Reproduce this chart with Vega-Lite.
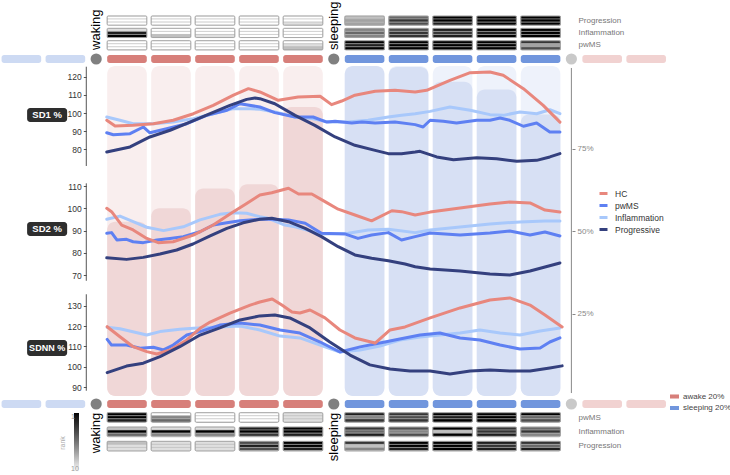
{
  "$schema": "https://vega.github.io/schema/vega-lite/v6.json",
  "padding": 0,
  "spacing": 0,
  "bounds": "flush",
  "config": {
    "view": {"stroke": null},
    "font": "Liberation Sans",
    "axis": {"grid": false, "title": null},
    "legend": {"padding": 0}
  },
  "datasets": {
    "slots": [
      {"start": -2.4, "end": -1.4, "state": "sleeping 20%", "context": "adjacent"},
      {"start": -1.4, "end": -0.4, "state": "sleeping 20%", "context": "adjacent"},
      {"start": 0, "end": 1, "state": "awake 20%", "context": "main"},
      {"start": 1, "end": 2, "state": "awake 20%", "context": "main"},
      {"start": 2, "end": 3, "state": "awake 20%", "context": "main"},
      {"start": 3, "end": 4, "state": "awake 20%", "context": "main"},
      {"start": 4, "end": 5, "state": "awake 20%", "context": "main"},
      {"start": 5.4, "end": 6.4, "state": "sleeping 20%", "context": "main"},
      {"start": 6.4, "end": 7.4, "state": "sleeping 20%", "context": "main"},
      {"start": 7.4, "end": 8.4, "state": "sleeping 20%", "context": "main"},
      {"start": 8.4, "end": 9.4, "state": "sleeping 20%", "context": "main"},
      {"start": 9.4, "end": 10.4, "state": "sleeping 20%", "context": "main"},
      {"start": 10.8, "end": 11.8, "state": "awake 20%", "context": "adjacent"},
      {"start": 11.8, "end": 12.8, "state": "awake 20%", "context": "adjacent"}
    ],
    "markers": [
      {"pos": -0.2, "kind": "waking"},
      {"pos": 5.2, "kind": "sleeping"},
      {"pos": 10.6, "kind": "end"}
    ],
    "columns": [
      {"start": 0, "end": 1, "state": "waking", "share": 52.8},
      {"start": 1, "end": 2, "state": "waking", "share": 56.9},
      {"start": 2, "end": 3, "state": "waking", "share": 62.9},
      {"start": 3, "end": 4, "state": "waking", "share": 64.2},
      {"start": 4, "end": 5, "state": "waking", "share": 87.6},
      {"start": 5.4, "end": 6.4, "state": "sleeping", "share": 100},
      {"start": 6.4, "end": 7.4, "state": "sleeping", "share": 99.7},
      {"start": 7.4, "end": 8.4, "state": "sleeping", "share": 95.2},
      {"start": 8.4, "end": 9.4, "state": "sleeping", "share": 92.9},
      {"start": 9.4, "end": 10.4, "state": "sleeping", "share": 85.3}
    ],
    "heat_top": [
      {"row": "Progression", "start": 0, "end": 1, "ranks": [10, 10, 10]},
      {"row": "Progression", "start": 1, "end": 2, "ranks": [10, 10, 10]},
      {"row": "Progression", "start": 2, "end": 3, "ranks": [10, 10, 10]},
      {"row": "Progression", "start": 3, "end": 4, "ranks": [10, 10, 10]},
      {"row": "Progression", "start": 4, "end": 5, "ranks": [10, 10, 9]},
      {"row": "Progression", "start": 5.4, "end": 6.4, "ranks": [8, 7, 7]},
      {"row": "Progression", "start": 6.4, "end": 7.4, "ranks": [5, 3, 4]},
      {"row": "Progression", "start": 7.4, "end": 8.4, "ranks": [1, 1, 2]},
      {"row": "Progression", "start": 8.4, "end": 9.4, "ranks": [1, 1, 1]},
      {"row": "Progression", "start": 9.4, "end": 10.4, "ranks": [1, 1, 1]},
      {"row": "Inflammation", "start": 0, "end": 1, "ranks": [9, 2, 1]},
      {"row": "Inflammation", "start": 1, "end": 2, "ranks": [10, 10, 8]},
      {"row": "Inflammation", "start": 2, "end": 3, "ranks": [10, 10, 9]},
      {"row": "Inflammation", "start": 3, "end": 4, "ranks": [10, 10, 10]},
      {"row": "Inflammation", "start": 4, "end": 5, "ranks": [10, 10, 10]},
      {"row": "Inflammation", "start": 5.4, "end": 6.4, "ranks": [6, 5, 6]},
      {"row": "Inflammation", "start": 6.4, "end": 7.4, "ranks": [4, 3, 3]},
      {"row": "Inflammation", "start": 7.4, "end": 8.4, "ranks": [2, 3, 2]},
      {"row": "Inflammation", "start": 8.4, "end": 9.4, "ranks": [1, 2, 1]},
      {"row": "Inflammation", "start": 9.4, "end": 10.4, "ranks": [1, 1, 1]},
      {"row": "pwMS", "start": 0, "end": 1, "ranks": [10, 10, 10]},
      {"row": "pwMS", "start": 1, "end": 2, "ranks": [10, 10, 10]},
      {"row": "pwMS", "start": 2, "end": 3, "ranks": [10, 10, 10]},
      {"row": "pwMS", "start": 3, "end": 4, "ranks": [10, 10, 10]},
      {"row": "pwMS", "start": 4, "end": 5, "ranks": [10, 9, 8]},
      {"row": "pwMS", "start": 5.4, "end": 6.4, "ranks": [1, 2, 1]},
      {"row": "pwMS", "start": 6.4, "end": 7.4, "ranks": [1, 1, 1]},
      {"row": "pwMS", "start": 7.4, "end": 8.4, "ranks": [1, 1, 1]},
      {"row": "pwMS", "start": 8.4, "end": 9.4, "ranks": [1, 1, 1]},
      {"row": "pwMS", "start": 9.4, "end": 10.4, "ranks": [3, 7, 4]}
    ],
    "heat_bottom": [
      {"row": "pwMS", "start": 0, "end": 1, "ranks": [1, 1, 2]},
      {"row": "pwMS", "start": 1, "end": 2, "ranks": [10, 6, 5]},
      {"row": "pwMS", "start": 2, "end": 3, "ranks": [10, 10, 10]},
      {"row": "pwMS", "start": 3, "end": 4, "ranks": [10, 10, 10]},
      {"row": "pwMS", "start": 4, "end": 5, "ranks": [9, 9, 9]},
      {"row": "pwMS", "start": 5.4, "end": 6.4, "ranks": [2, 6, 3]},
      {"row": "pwMS", "start": 6.4, "end": 7.4, "ranks": [3, 4, 3]},
      {"row": "pwMS", "start": 7.4, "end": 8.4, "ranks": [1, 2, 1]},
      {"row": "pwMS", "start": 8.4, "end": 9.4, "ranks": [1, 1, 1]},
      {"row": "pwMS", "start": 9.4, "end": 10.4, "ranks": [1, 5, 4]},
      {"row": "Inflammation", "start": 0, "end": 1, "ranks": [8, 1, 5]},
      {"row": "Inflammation", "start": 1, "end": 2, "ranks": [9, 1, 6]},
      {"row": "Inflammation", "start": 2, "end": 3, "ranks": [9, 1, 6]},
      {"row": "Inflammation", "start": 3, "end": 4, "ranks": [2, 1, 3]},
      {"row": "Inflammation", "start": 4, "end": 5, "ranks": [1, 1, 2]},
      {"row": "Inflammation", "start": 5.4, "end": 6.4, "ranks": [3, 5, 2]},
      {"row": "Inflammation", "start": 6.4, "end": 7.4, "ranks": [4, 6, 4]},
      {"row": "Inflammation", "start": 7.4, "end": 8.4, "ranks": [1, 8, 1]},
      {"row": "Inflammation", "start": 8.4, "end": 9.4, "ranks": [3, 3, 2]},
      {"row": "Inflammation", "start": 9.4, "end": 10.4, "ranks": [5, 3, 6]},
      {"row": "Progression", "start": 0, "end": 1, "ranks": [8, 9, 9]},
      {"row": "Progression", "start": 1, "end": 2, "ranks": [9, 9, 9]},
      {"row": "Progression", "start": 2, "end": 3, "ranks": [9, 9, 9]},
      {"row": "Progression", "start": 3, "end": 4, "ranks": [4, 2, 4]},
      {"row": "Progression", "start": 4, "end": 5, "ranks": [1, 1, 2]},
      {"row": "Progression", "start": 5.4, "end": 6.4, "ranks": [3, 8, 6]},
      {"row": "Progression", "start": 6.4, "end": 7.4, "ranks": [1, 1, 2]},
      {"row": "Progression", "start": 7.4, "end": 8.4, "ranks": [1, 1, 1]},
      {"row": "Progression", "start": 8.4, "end": 9.4, "ranks": [2, 3, 2]},
      {"row": "Progression", "start": 9.4, "end": 10.4, "ranks": [3, 5, 2]}
    ],
    "series": [
      {"metric": "SD1", "group": "Inflammation", "t": [0.04,0.34,0.64,1.10,1.55,2.01,2.46,2.92,3.30,3.52,3.86,4.32,4.70,5.08,5.53,5.98,6.44,6.74,7.05,7.39,7.84,8.30,8.75,9.05,9.43,9.81,10.11,10.34], "v": [97.8,96.0,94.1,94.1,95.0,96.9,99.6,102.4,102.4,102.0,100.6,97.8,96.9,95.0,95.0,96.0,97.8,98.7,99.6,100.9,103.3,101.5,99.1,98.7,100.6,99.6,101.8,99.6]},
      {"metric": "SD1", "group": "pwMS", "t": [0.04,0.19,0.57,0.87,1.02,1.40,1.86,2.31,2.77,3.07,3.52,3.86,4.32,4.73,5.04,5.23,5.61,5.84,6.14,6.59,7.05,7.23,7.39,7.69,7.99,8.45,8.75,8.98,9.20,9.51,9.81,10.11,10.34], "v": [89.1,88.0,88.6,92.3,89.1,91.3,94.1,98.7,101.5,105.1,103.3,100.2,97.8,97.8,95.0,95.4,94.5,95.0,94.5,95.0,93.6,92.3,96.0,95.4,94.5,96.0,96.0,97.2,96.0,92.7,94.5,89.5,89.5]},
      {"metric": "SD1", "group": "HC", "t": [0.04,0.23,0.64,1.10,1.55,2.01,2.46,2.92,3.26,3.52,3.94,4.39,4.89,5.15,5.38,5.68,6.14,6.59,7.05,7.31,7.84,8.30,8.75,9.05,9.51,9.96,10.34], "v": [96.0,92.8,93.2,94.1,96.0,99.6,104.2,109.8,113.4,111.6,107.0,108.8,109.2,104.6,106.6,109.8,112.0,112.5,111.6,112.5,118.0,122.2,122.6,120.8,113.4,104.2,95.0]},
      {"metric": "SD1", "group": "Progressive", "t": [0.04,0.57,1.02,1.48,1.93,2.39,2.84,3.22,3.41,3.52,3.86,4.32,4.77,5.23,5.68,6.14,6.44,6.74,7.05,7.16,7.54,7.92,8.45,8.90,9.36,9.81,10.11,10.34], "v": [78.5,81.3,86.8,90.5,95.0,99.6,104.2,107.5,108.3,107.9,105.1,98.7,93.2,86.8,82.2,79.4,77.6,77.6,78.5,78.9,75.8,74.3,75.4,74.8,73.4,73.9,75.8,77.6]},
      {"metric": "SD2", "group": "Inflammation", "t": [0.04,0.34,0.64,0.95,1.33,1.78,2.16,2.61,2.92,3.22,3.52,3.71,4.09,4.32,4.92,5.53,5.98,6.44,7.05,7.39,8.07,8.75,9.43,10.00,10.34], "v": [95.1,96.5,94.0,91.5,90.0,91.7,94.8,97.3,98.0,97.8,96.2,95.5,92.5,91.7,88.5,88.8,90.3,90.6,89.1,90.3,91.6,93.0,93.9,94.3,94.3]},
      {"metric": "SD2", "group": "pwMS", "t": [0.04,0.15,0.27,0.49,0.64,0.87,1.18,1.48,1.78,2.16,2.46,2.77,3.07,3.52,3.79,4.17,4.55,4.92,5.45,5.75,6.06,6.44,6.74,7.05,7.39,8.07,8.75,9.20,9.66,10.00,10.34], "v": [88.8,89.1,85.8,86.1,85.0,84.6,85.8,86.5,87.3,89.5,92.5,93.5,94.4,95.1,95.1,94.8,93.3,88.8,88.5,86.5,88.0,89.1,85.8,87.3,88.9,88.0,88.9,89.8,88.0,89.4,87.6]},
      {"metric": "SD2", "group": "HC", "t": [0.04,0.15,0.38,0.64,0.95,1.21,1.55,2.01,2.46,2.92,3.22,3.52,3.79,4.17,4.40,4.70,5.00,5.30,5.68,6.06,6.52,6.74,7.05,7.39,8.07,8.75,9.20,9.66,10.00,10.34], "v": [100.0,98.5,92.5,90.3,86.5,84.6,85.0,88.0,92.5,98.5,102.2,106.0,107.0,109.0,106.4,106.4,103.0,99.6,97.0,94.4,98.9,98.5,97.0,98.3,100.1,101.9,102.8,102.4,99.2,98.3]},
      {"metric": "SD2", "group": "Progressive", "t": [0.04,0.49,0.87,1.25,1.63,2.00,2.39,2.77,3.14,3.52,3.79,4.17,4.55,4.92,5.30,5.68,6.06,6.44,6.82,7.05,7.39,8.07,8.75,9.20,9.66,10.00,10.34], "v": [77.8,77.1,78.0,79.5,81.3,84.0,87.6,91.0,93.5,95.1,95.5,94.0,91.0,87.3,82.8,79.1,77.6,76.5,75.0,73.8,72.8,71.9,70.5,70.1,71.9,73.7,75.5]},
      {"metric": "SDNN", "group": "Inflammation", "t": [0.05,0.34,0.95,1.25,1.70,2.01,2.61,3.07,3.52,3.98,4.43,4.89,5.34,5.80,6.25,6.70,7.16,7.61,8.07,8.52,8.98,9.43,9.89,10.34], "v": [119.4,118.7,115.6,117.3,118.4,118.9,119.6,120.0,118.1,115.1,114.2,110.7,107.3,108.3,110.2,113.2,114.7,115.6,116.6,118.1,116.6,115.6,117.6,119.1]},
      {"metric": "SDNN", "group": "pwMS", "t": [0.05,0.15,0.49,0.80,1.10,1.33,1.55,1.86,2.16,2.61,3.07,3.52,3.98,4.43,4.89,5.34,5.80,6.25,6.70,7.16,7.61,8.07,8.52,8.98,9.43,9.89,10.11,10.34], "v": [113.5,110.7,110.7,109.1,109.6,108.3,110.7,115.6,117.3,120.5,121.5,120.5,118.1,116.6,112.2,107.3,109.8,111.7,113.7,115.6,116.6,114.2,113.2,110.7,108.8,109.3,112.2,114.2]},
      {"metric": "SDNN", "group": "HC", "t": [0.05,0.34,0.64,0.95,1.18,1.48,1.86,2.16,2.39,2.84,3.30,3.52,3.80,4.02,4.25,4.43,4.66,5.00,5.34,5.68,6.14,6.48,6.82,7.39,8.07,8.75,9.20,9.66,10.00,10.39], "v": [119.7,114.8,109.9,107.5,106.3,108.3,113.2,118.9,122.0,126.4,130.3,131.8,133.3,130.3,126.9,126.4,127.9,124.0,118.1,114.2,111.7,118.1,119.6,124.0,128.9,132.8,133.8,130.3,125.4,119.6]},
      {"metric": "SDNN", "group": "Progressive", "t": [0.05,0.49,0.87,1.25,1.70,2.16,2.61,3.07,3.52,3.86,4.20,4.66,5.11,5.57,6.02,6.48,6.93,7.39,7.84,8.30,8.75,9.20,9.66,10.11,10.39], "v": [97.2,100.4,101.8,105.0,109.9,115.6,119.1,123.0,125.0,125.4,124.0,119.1,112.2,105.8,101.0,99.0,98.0,98.0,96.5,98.0,98.5,98.0,98.0,99.5,100.5]}
    ]
  },
  "resolve": {"scale": {"color": "independent", "opacity": "independent"}, "legend": {"color": "independent"}},
  "vconcat": [
    {
      "width": 730,
      "height": 55,
      "layer": [
        {
          "data": {"name": "heat_top"},
          "transform": [
            {"flatten": ["ranks"], "as": ["rank"]},
            {"window": [{"op": "row_number", "as": "stripe"}], "groupby": ["row", "start"]}
          ],
          "mark": {"type": "rect", "xOffset": 2.2, "x2Offset": -2.2, "stroke": "#b5b5b5", "strokeWidth": 0.5},
          "encoding": {
            "x": {"field": "start", "type": "quantitative", "scale": {"domain": [-2.386, 14.205], "nice": false, "zero": false}, "axis": null},
            "x2": {"field": "end"},
            "y": {"field": "row", "type": "nominal", "scale": {"domain": ["Progression", "Inflammation", "pwMS"], "paddingInner": 0.255, "paddingOuter": 0.854, "align": 0.758}, "axis": {"orient": "right", "offset": -154, "domain": false, "ticks": false, "labelPadding": 2, "labelFontSize": 8, "labelColor": "#777"}},
            "yOffset": {"field": "stripe", "type": "ordinal", "scale": {"paddingInner": 0, "paddingOuter": 0}},
            "color": {"field": "rank", "type": "quantitative", "scale": {"domain": [10, 1], "range": ["#ffffff", "#000000"]}, "legend": null}
          }
        },
        {
          "data": {"name": "heat_top"},
          "mark": {"type": "rect", "filled": false, "color": "#9a9a9a", "strokeWidth": 0.8, "cornerRadius": 1.5, "xOffset": 2.2, "x2Offset": -2.2},
          "encoding": {
            "x": {"field": "start", "type": "quantitative"},
            "x2": {"field": "end"},
            "y": {"field": "row", "type": "nominal"}
          }
        },
        {
          "data": {"name": "markers"},
          "transform": [{"filter": "datum.kind !== 'end'"}],
          "mark": {"type": "text", "angle": 270, "align": "left", "baseline": "middle", "fontSize": 13, "color": "#000"},
          "encoding": {
            "x": {"field": "pos", "type": "quantitative"},
            "y": {"datum": "pwMS", "type": "nominal", "bandPosition": 1},
            "text": {"field": "kind"}
          }
        }
      ]
    },
    {
      "width": 730,
      "height": 8,
      "layer": [
        {
          "data": {"name": "slots"},
          "mark": {"type": "rect", "cornerRadius": 2.5, "xOffset": 2.2, "x2Offset": -2.2},
          "encoding": {
            "x": {"field": "start", "type": "quantitative", "scale": {"domain": [-2.386, 14.205], "nice": false, "zero": false}, "axis": null},
            "x2": {"field": "end"},
            "color": {"field": "state", "type": "nominal", "scale": {"domain": ["awake 20%", "sleeping 20%"], "range": ["#d77f7a", "#7196dd"]}, "legend": null},
            "opacity": {"field": "context", "type": "nominal", "scale": {"domain": ["main", "adjacent"], "range": [1, 0.35]}, "legend": null}
          }
        },
        {
          "data": {"name": "markers"},
          "mark": {"type": "circle", "size": 125, "opacity": 1},
          "encoding": {
            "x": {"field": "pos", "type": "quantitative"},
            "color": {"condition": {"test": "datum.kind === 'end'", "value": "#c9c9c9"}, "value": "#808080"}
          }
        }
      ]
    },
    {
      "width": 730,
      "height": 337,
      "resolve": {"scale": {"y": "independent"}, "axis": {"y": "independent"}},
      "layer": [
        {
          "layer": [
            {
              "data": {"name": "columns"},
              "mark": {"type": "rect", "cornerRadius": 8, "xOffset": 2.2, "x2Offset": -2.2},
              "encoding": {
                "x": {"field": "start", "type": "quantitative", "scale": {"domain": [-2.386, 14.205], "nice": false, "zero": false}, "axis": null},
                "x2": {"field": "end"},
                "y": {"datum": 100, "type": "quantitative", "scale": {"domain": [-1.21, 100.91], "nice": false, "zero": false}, "axis": {"orient": "right", "offset": -158, "values": [25, 50, 75], "labelExpr": "datum.value + '%'", "domain": false, "tickSize": 3, "tickColor": "#888", "labelColor": "#888", "labelFontSize": 8, "labelPadding": 2}},
                "y2": {"datum": 0},
                "fill": {"condition": {"test": "datum.state === 'waking'", "value": "#f9eeee"}, "value": "#eef2fb"}
              }
            },
            {
              "data": {"name": "columns"},
              "mark": {"type": "rect", "cornerRadius": 8, "xOffset": 2.2, "x2Offset": -2.2},
              "encoding": {
                "x": {"field": "start", "type": "quantitative"},
                "x2": {"field": "end"},
                "y": {"field": "share", "type": "quantitative"},
                "y2": {"datum": 0},
                "fill": {"condition": {"test": "datum.state === 'waking'", "value": "#f0d7d7"}, "value": "#d7e0f4"}
              }
            },
            {
              "data": {"values": [{}]},
              "mark": {"type": "rule", "color": "#888", "strokeWidth": 1},
              "encoding": {
                "x": {"datum": 10.6, "type": "quantitative"},
                "y": {"datum": 99.4, "type": "quantitative"},
                "y2": {"datum": 0.9}
              }
            }
          ]
        },
        {
          "layer": [
            {
              "data": {"name": "series"},
              "transform": [{"filter": "datum.metric === 'SD1'"}, {"flatten": ["t", "v"]}],
              "mark": {"type": "line", "strokeWidth": 3, "strokeCap": "round", "strokeJoin": "round"},
              "encoding": {
                "x": {"field": "t", "type": "quantitative"},
                "y": {"field": "v", "type": "quantitative", "scale": {"domain": [-58.13, 127.55], "nice": false, "zero": false}, "axis": {"orient": "left", "offset": -86.3, "values": [80, 90, 100, 110, 120], "domain": false, "tickSize": 3, "tickColor": "#555", "labelColor": "#333", "labelFontSize": 8.5, "labelPadding": 2}},
                "color": {"field": "group", "type": "nominal", "scale": {"domain": ["HC", "pwMS", "Inflammation", "Progressive"], "range": ["#e8877d", "#5e80f2", "#a8c8fb", "#34407e"]}, "legend": {"orient": "none", "legendX": 598, "legendY": 125, "title": null, "symbolType": "stroke", "symbolSize": 64, "symbolStrokeWidth": 3, "labelFontSize": 8.5, "labelColor": "#333", "labelOffset": 6, "rowPadding": -2.5}}
              }
            },
            {
              "data": {"values": [{}]},
              "mark": {"type": "rule", "color": "#555", "strokeWidth": 1},
              "encoding": {
                "x": {"datum": -0.425, "type": "quantitative"},
                "y": {"datum": 125.5, "type": "quantitative"},
                "y2": {"datum": 70.8}
              }
            },
            {
              "data": {"values": [{"label": "SD1 %"}]},
              "mark": {"type": "rect", "color": "#2e2e2e", "cornerRadius": 3},
              "encoding": {
                "x": {"datum": -1.77, "type": "quantitative"},
                "x2": {"datum": -0.86},
                "y": {"datum": 102.75, "type": "quantitative"},
                "y2": {"datum": 95.04}
              }
            },
            {
              "data": {"values": [{"label": "SD1 %"}]},
              "mark": {"type": "text", "color": "#ffffff", "fontWeight": "bold", "fontSize": 9.5},
              "encoding": {
                "x": {"datum": -1.315, "type": "quantitative"},
                "y": {"datum": 98.9, "type": "quantitative"},
                "text": {"field": "label"}
              }
            }
          ]
        },
        {
          "layer": [
            {
              "data": {"name": "series"},
              "transform": [{"filter": "datum.metric === 'SD2'"}, {"flatten": ["t", "v"]}],
              "mark": {"type": "line", "strokeWidth": 3, "strokeCap": "round", "strokeJoin": "round"},
              "encoding": {
                "x": {"field": "t", "type": "quantitative"},
                "y": {"field": "v", "type": "quantitative", "scale": {"domain": [14.04, 165.16], "nice": false, "zero": false}, "axis": {"orient": "left", "offset": -86.3, "values": [70, 80, 90, 100, 110], "domain": false, "tickSize": 3, "tickColor": "#555", "labelColor": "#333", "labelFontSize": 8.5, "labelPadding": 2}},
                "color": {"field": "group", "type": "nominal"}
              }
            },
            {
              "data": {"values": [{}]},
              "mark": {"type": "rule", "color": "#555", "strokeWidth": 1},
              "encoding": {
                "x": {"datum": -0.425, "type": "quantitative"},
                "y": {"datum": 111.2, "type": "quantitative"},
                "y2": {"datum": 67.5}
              }
            },
            {
              "data": {"values": [{"label": "SD2 %"}]},
              "mark": {"type": "rect", "color": "#2e2e2e", "cornerRadius": 3},
              "encoding": {
                "x": {"datum": -1.77, "type": "quantitative"},
                "x2": {"datum": -0.86},
                "y": {"datum": 93.86, "type": "quantitative"},
                "y2": {"datum": 87.58}
              }
            },
            {
              "data": {"values": [{"label": "SD2 %"}]},
              "mark": {"type": "text", "color": "#ffffff", "fontWeight": "bold", "fontSize": 9.5},
              "encoding": {
                "x": {"datum": -1.315, "type": "quantitative"},
                "y": {"datum": 90.72, "type": "quantitative"},
                "text": {"field": "label"}
              }
            }
          ]
        },
        {
          "layer": [
            {
              "data": {"name": "series"},
              "transform": [{"filter": "datum.metric === 'SDNN'"}, {"flatten": ["t", "v"]}],
              "mark": {"type": "line", "strokeWidth": 3, "strokeCap": "round", "strokeJoin": "round"},
              "encoding": {
                "x": {"field": "t", "type": "quantitative"},
                "y": {"field": "v", "type": "quantitative", "scale": {"domain": [83.77, 248.97], "nice": false, "zero": false}, "axis": {"orient": "left", "offset": -86.3, "values": [90, 100, 110, 120, 130], "domain": false, "tickSize": 3, "tickColor": "#555", "labelColor": "#333", "labelFontSize": 8.5, "labelPadding": 2}},
                "color": {"field": "group", "type": "nominal"}
              }
            },
            {
              "data": {"values": [{}]},
              "mark": {"type": "rule", "color": "#555", "strokeWidth": 1},
              "encoding": {
                "x": {"datum": -0.425, "type": "quantitative"},
                "y": {"datum": 135.6, "type": "quantitative"},
                "y2": {"datum": 88.3}
              }
            },
            {
              "data": {"values": [{"label": "SDNN %"}]},
              "mark": {"type": "rect", "color": "#2e2e2e", "cornerRadius": 3},
              "encoding": {
                "x": {"datum": -1.77, "type": "quantitative"},
                "x2": {"datum": -0.86},
                "y": {"datum": 113.19, "type": "quantitative"},
                "y2": {"datum": 105.34}
              }
            },
            {
              "data": {"values": [{"label": "SDNN %"}]},
              "mark": {"type": "text", "color": "#ffffff", "fontWeight": "bold", "fontSize": 9},
              "encoding": {
                "x": {"datum": -1.315, "type": "quantitative"},
                "y": {"datum": 109.27, "type": "quantitative"},
                "text": {"field": "label"}
              }
            }
          ]
        }
      ]
    },
    {
      "width": 730,
      "height": 8,
      "layer": [
        {
          "data": {"name": "slots"},
          "mark": {"type": "rect", "cornerRadius": 2.5, "xOffset": 2.2, "x2Offset": -2.2},
          "encoding": {
            "x": {"field": "start", "type": "quantitative", "scale": {"domain": [-2.386, 14.205], "nice": false, "zero": false}, "axis": null},
            "x2": {"field": "end"},
            "color": {"field": "state", "type": "nominal", "scale": {"domain": ["awake 20%", "sleeping 20%"], "range": ["#d77f7a", "#7196dd"]}, "legend": {"orient": "none", "legendX": 669, "legendY": -9, "title": null, "symbolType": "M-1,-0.45H1V0.45H-1Z", "symbolSize": 81, "symbolOpacity": 1, "labelFontSize": 8, "labelColor": "#444", "labelOffset": 3, "rowPadding": 1.5}},
            "opacity": {"field": "context", "type": "nominal", "scale": {"domain": ["main", "adjacent"], "range": [1, 0.35]}, "legend": null}
          }
        },
        {
          "data": {"name": "markers"},
          "mark": {"type": "circle", "size": 125, "opacity": 1},
          "encoding": {
            "x": {"field": "pos", "type": "quantitative"},
            "color": {"condition": {"test": "datum.kind === 'end'", "value": "#c9c9c9"}, "value": "#808080"}
          }
        }
      ]
    },
    {
      "width": 730,
      "height": 67,
      "layer": [
        {
          "data": {"name": "heat_bottom"},
          "transform": [
            {"flatten": ["ranks"], "as": ["rank"]},
            {"window": [{"op": "row_number", "as": "stripe"}], "groupby": ["row", "start"]}
          ],
          "mark": {"type": "rect", "xOffset": 2.2, "x2Offset": -2.2, "stroke": "#b5b5b5", "strokeWidth": 0.5},
          "encoding": {
            "x": {"field": "start", "type": "quantitative", "scale": {"domain": [-2.386, 14.205], "nice": false, "zero": false}, "axis": null},
            "x2": {"field": "end"},
            "y": {"field": "row", "type": "nominal", "scale": {"domain": ["pwMS", "Inflammation", "Progression"], "paddingInner": 0.32, "paddingOuter": 1.34, "align": 0.164}, "axis": {"orient": "right", "offset": -154, "domain": false, "ticks": false, "labelPadding": 2, "labelFontSize": 8, "labelColor": "#777"}},
            "yOffset": {"field": "stripe", "type": "ordinal", "scale": {"paddingInner": 0, "paddingOuter": 0}},
            "color": {"field": "rank", "type": "quantitative", "scale": {"domain": [10, 1], "range": ["#ffffff", "#000000"]}, "legend": {"orient": "none", "legendX": 59, "legendY": 5, "direction": "vertical", "gradientLength": 59, "gradientThickness": 5, "gradientStrokeWidth": 0, "values": [1, 10], "title": "rank", "titleOrient": "left", "titleAngle": 270, "titleFontSize": 7, "titleFontWeight": "normal", "titleColor": "#aaa", "titlePadding": 8, "labelAlign": "right", "labelOffset": -8, "labelFontSize": 7, "labelColor": "#999"}}
          }
        },
        {
          "data": {"name": "heat_bottom"},
          "mark": {"type": "rect", "filled": false, "color": "#9a9a9a", "strokeWidth": 0.8, "cornerRadius": 1.5, "xOffset": 2.2, "x2Offset": -2.2},
          "encoding": {
            "x": {"field": "start", "type": "quantitative"},
            "x2": {"field": "end"},
            "y": {"field": "row", "type": "nominal"}
          }
        },
        {
          "data": {"name": "markers"},
          "transform": [{"filter": "datum.kind !== 'end'"}],
          "mark": {"type": "text", "angle": 270, "align": "right", "baseline": "middle", "fontSize": 13, "color": "#000"},
          "encoding": {
            "x": {"field": "pos", "type": "quantitative"},
            "y": {"datum": "pwMS", "type": "nominal", "bandPosition": 0},
            "text": {"field": "kind"}
          }
        }
      ]
    }
  ]
}
